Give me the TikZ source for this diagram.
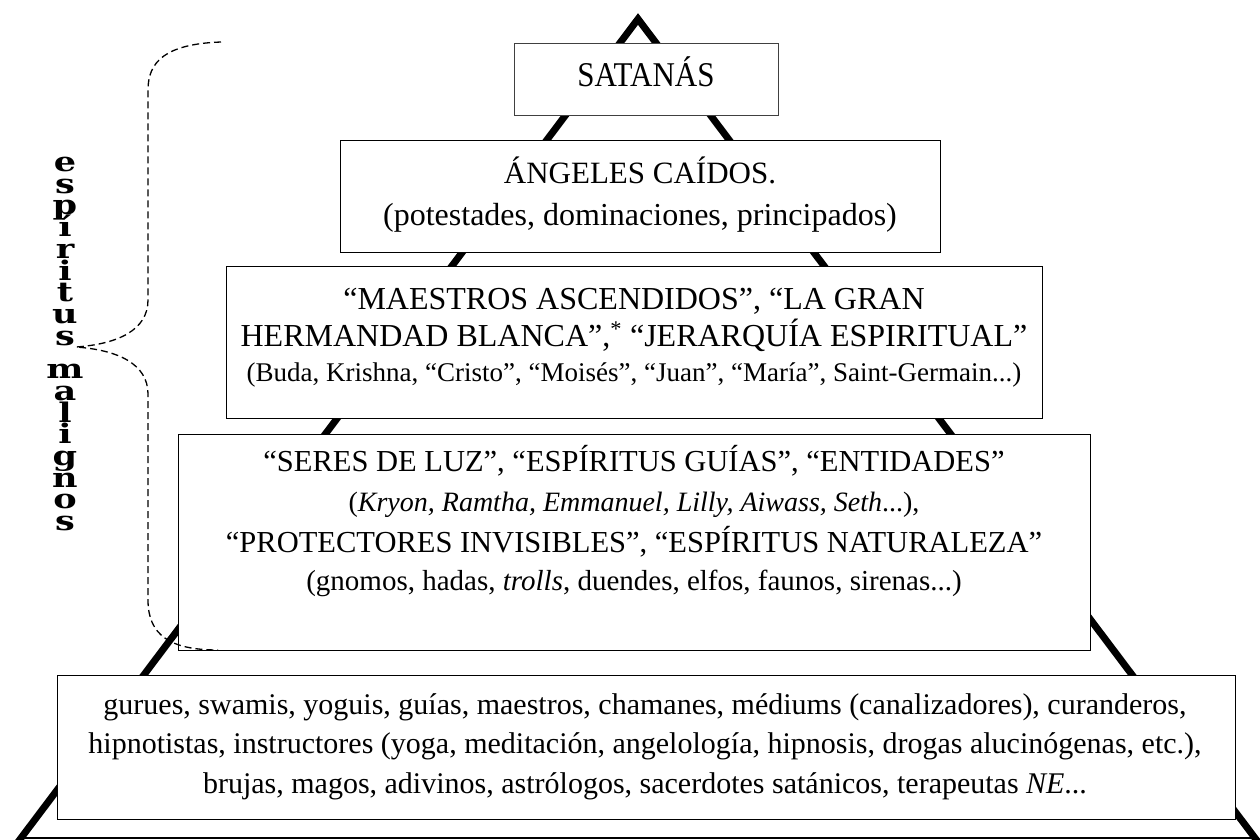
\documentclass[tikz,border=0pt]{standalone}
\usepackage{fontspec}
\setmainfont{Liberation Serif}
\newfontfamily\vertf[FakeStretch=1.3]{DejaVu Serif Bold}
\newcommand{\fs}[1]{\fontsize{#1}{#1}\selectfont}
\newcommand{\vsetup}{\vertf\fontsize{27}{21.7}\selectfont\setlength{\lineskiplimit}{-100pt}\setlength{\lineskip}{0pt}\relax}
\begin{document}
\begin{tikzpicture}[x=1pt,y=-1pt,
  leg/.style={line width=7pt, line join=miter, line cap=butt},
  baseline rule/.style={line width=1.5pt},
  box/.style={draw=black, line width=1.3pt, fill=white, inner sep=0pt, anchor=north west},
  txt/.style={anchor=base, inner sep=0pt},
  vword/.style={anchor=north, inner sep=0pt, align=center, font=\vsetup},
  brace/.style={dash pattern=on 7pt off 4pt, line width=1.3pt}
]
\useasboundingbox (0,0) rectangle (1260,840);
\fill[white] (0,0) rectangle (1260,840);

% pyramid
\coordinate (apex) at (638,19);
\coordinate (bl) at (18,842);
\coordinate (br) at (1258,842);
\coordinate (basel) at (18,838);
\coordinate (baser) at (1258,838);
\draw[leg] (bl) -- (apex) -- (br);
\draw[baseline rule] (basel) -- (baser);

% boxes
\node[box, draw=black!75, line width=1pt, minimum width=264pt, minimum height=72pt] (b1) at (514,43) {};
\node[box, minimum width=600pt, minimum height=112pt] (b2) at (340,140) {};
\node[box, minimum width=816pt, minimum height=152pt] (b3) at (226,266) {};
\node[box, minimum width=912pt, minimum height=216pt] (b4) at (178,434) {};
\node[box, minimum width=1178pt, minimum height=144pt] (b5) at (57,675) {};

% texts
\node[txt, font=\fs{31}] (t1) at (646,87) {\scalebox{1}[1.12]{SATANÁS}};

\node[txt, font=\fs{31}] (t2a) at (640,183) {ÁNGELES CAÍDOS.};
\node[txt, font=\fs{32}] (t2b) at (640,225) {(potestades, dominaciones, principados)};

\node[txt, font=\fs{32}] (t3a) at (634,309) {“MAESTROS ASCENDIDOS”, “LA GRAN};
\node[txt, font=\fs{32}] (t3b) at (634,346) {HERMANDAD BLANCA”,\textsuperscript{*} “JERARQUÍA ESPIRITUAL”};
\node[txt, font=\fs{27}] (t3c) at (634,381) {(Buda, Krishna, “Cristo”, “Moisés”, “Juan”, “María”, Saint-Germain...)};

\node[txt, font=\fs{30.5}] (t4a) at (634,471) {“SERES DE LUZ”, “ESPÍRITUS GUÍAS”, “ENTIDADES”};
\node[txt, font=\fs{28}] (t4b) at (634,511) {(\textit{Kryon, Ramtha, Emmanuel, Lilly, Aiwass, Seth}...),};
\node[txt, font=\fs{30.5}] (t4c) at (634,552) {“PROTECTORES INVISIBLES”, “ESPÍRITUS NATURALEZA”};
\node[txt, font=\fs{29}] (t4d) at (634,590) {(gnomos, hadas, \textit{trolls}, duendes, elfos, faunos, sirenas...)};

\node[txt, font=\fs{30}] (t5a) at (645,714) {gurues, swamis, yoguis, guías, maestros, chamanes, médiums (canalizadores), curanderos,};
\node[txt, font=\fs{30}] (t5b) at (645,753.5) {hipnotistas, instructores (yoga, meditación, angelología, hipnosis, drogas alucinógenas, etc.),};
\node[txt, font=\fs{30}] (t5c) at (645,793) {brujas, magos, adivinos, astrólogos, sacerdotes satánicos, terapeutas \textit{NE}...};

% vertical label
\node[vword] (vesp) at (65,157) {e\\s\\p\\í\\r\\i\\t\\u\\s};
\node[vword] (vmal) at (65,364) {m\\a\\l\\i\\g\\n\\o\\s};

% dashed brace
\coordinate (brtop) at (221,42);
\coordinate (brtip) at (76,347);
\coordinate (brbot) at (218,650);
\draw[brace] (brtop) .. controls (165,44) and (148,62) .. (148,90) -- (148,300)
  .. controls (148,330) and (118,344) .. (brtip)
  .. controls (118,350) and (148,364) .. (148,394) -- (148,600)
  .. controls (148,635) and (170,650) .. (brbot);
\end{tikzpicture}
\end{document}
